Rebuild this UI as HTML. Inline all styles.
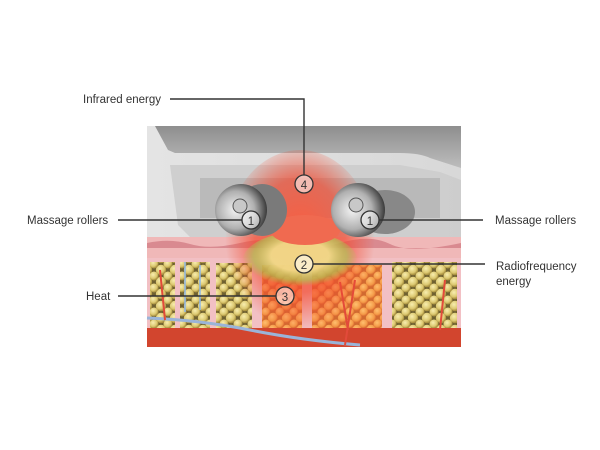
<!DOCTYPE html>
<html><head><style>
html,body{margin:0;padding:0;background:#fff;}
svg{display:block}
text{font-family:"Liberation Sans",sans-serif;font-size:11.5px;fill:#333}
</style></head><body>
<svg width="600" height="450" viewBox="0 0 600 450" xmlns="http://www.w3.org/2000/svg">
<defs>
<linearGradient id="dev" x1="0" y1="0" x2="0" y2="1"><stop offset="0" stop-color="#8e8e8e"/><stop offset="1" stop-color="#bdbdbd"/></linearGradient>
<linearGradient id="bg" x1="0" y1="0" x2="1" y2="0"><stop offset="0" stop-color="#e4e4e4"/><stop offset="1" stop-color="#d8d8d8"/></linearGradient>
<radialGradient id="glow" cx="0.5" cy="0.45" r="0.5"><stop offset="0" stop-color="#ff5a3a" stop-opacity="0.95"/><stop offset="0.6" stop-color="#f24a30" stop-opacity="0.7"/><stop offset="1" stop-color="#f24a30" stop-opacity="0"/></radialGradient>
<radialGradient id="green" cx="0.5" cy="0.4" r="0.5"><stop offset="0.5" stop-color="#f0e890" stop-opacity="0.85"/><stop offset="0.8" stop-color="#9ee05a" stop-opacity="0.55"/><stop offset="1" stop-color="#8ee04a" stop-opacity="0"/></radialGradient>
<radialGradient id="roll" cx="0.4" cy="0.5" r="0.6"><stop offset="0" stop-color="#f4f4f4"/><stop offset="0.6" stop-color="#b0b0b0"/><stop offset="1" stop-color="#3a3a3a"/></radialGradient>
<radialGradient id="cell" cx="0.4" cy="0.35" r="0.6"><stop offset="0" stop-color="#f8eeb0"/><stop offset="0.7" stop-color="#dcc870"/><stop offset="1" stop-color="#a89040"/></radialGradient>
<radialGradient id="cellw" cx="0.4" cy="0.35" r="0.6"><stop offset="0" stop-color="#ffc070"/><stop offset="0.7" stop-color="#f49a48"/><stop offset="1" stop-color="#d86a30"/></radialGradient>
<pattern id="fat" width="14" height="12" patternUnits="userSpaceOnUse"><rect width="14" height="12" fill="#6e6030"/><circle cx="7" cy="6" r="5.2" fill="url(#cell)"/><circle cx="0" cy="0" r="4.5" fill="url(#cell)"/><circle cx="14" cy="0" r="4.5" fill="url(#cell)"/><circle cx="0" cy="12" r="4.5" fill="url(#cell)"/><circle cx="14" cy="12" r="4.5" fill="url(#cell)"/></pattern>
<pattern id="fatw" width="14" height="12" patternUnits="userSpaceOnUse"><rect width="14" height="12" fill="#d06a30"/><circle cx="7" cy="6" r="5.2" fill="url(#cellw)"/><circle cx="0" cy="0" r="4.5" fill="url(#cellw)"/><circle cx="14" cy="0" r="4.5" fill="url(#cellw)"/><circle cx="0" cy="12" r="4.5" fill="url(#cellw)"/><circle cx="14" cy="12" r="4.5" fill="url(#cellw)"/></pattern>
</defs>
<rect x="147" y="126" width="314" height="221" fill="url(#bg)"/>
<path d="M155 126 H461 V168 L430 158 Q420 153 400 153 H175 L168 150 Z" fill="url(#dev)"/>
<path d="M170 165 H400 L440 172 L461 180 V237 H190 L178 225 Z" fill="#cbcbcb" opacity="0.85"/>
<rect x="200" y="178" width="240" height="40" fill="#a0a0a0" opacity="0.45"/>
<rect x="147" y="237" width="314" height="22" fill="#f0b8b8"/>
<path d="M147 243 Q170 238 190 244 T240 243 T290 244 T340 243 T390 244 T461 243 V248 H147Z" fill="#d98a90"/>
<rect x="147" y="258" width="314" height="74" fill="#f2c0c4"/>
<rect x="150" y="262" width="25" height="66" fill="url(#fat)"/>
<rect x="180" y="262" width="30" height="66" fill="url(#fat)"/>
<rect x="216" y="263" width="36" height="65" fill="url(#fat)"/>
<rect x="262" y="265" width="40" height="65" fill="url(#fatw)"/>
<rect x="312" y="265" width="70" height="65" fill="url(#fatw)"/>
<rect x="392" y="262" width="65" height="68" fill="url(#fat)"/>
<rect x="147" y="328" width="314" height="19" fill="#d2452e"/>
<path d="M147 318 Q200 320 250 330 T360 345" stroke="#9ab4d8" stroke-width="3" fill="none"/>
<path d="M185 262 V312 M200 265 V310" stroke="#8fb8e8" stroke-width="1.5" fill="none"/>
<path d="M355 280 L345 345 M340 282 L348 330 M160 270 L165 320 M445 280 L440 330" stroke="#e24a3a" stroke-width="2" fill="none"/>
<ellipse cx="300" cy="245" rx="75" ry="95" fill="url(#glow)"/>
<ellipse cx="300" cy="262" rx="58" ry="30" fill="url(#green)"/>
<ellipse cx="305" cy="230" rx="35" ry="15" fill="#f06a50"/>
<ellipse cx="262" cy="210" rx="25" ry="26" fill="#7a7a7a"/>
<circle cx="241" cy="210" r="26" fill="url(#roll)"/>
<circle cx="240" cy="206" r="7" fill="#c8c8c8" stroke="#555"/>
<ellipse cx="385" cy="212" rx="30" ry="22" fill="#888"/>
<circle cx="358" cy="210" r="27" fill="url(#roll)"/>
<circle cx="356" cy="205" r="7" fill="#c8c8c8" stroke="#555"/>
<g stroke="#333" stroke-width="1.4" fill="none">
<path d="M170 99 H304 V175"/>
<path d="M118 220 H242"/>
<path d="M379 220 H483"/>
<path d="M313 264 H485"/>
<path d="M118 296 H276"/>
</g>
<g fill="#fff" fill-opacity="0.55" stroke="#333" stroke-width="1.3">
<circle cx="304" cy="184" r="9"/>
<circle cx="251" cy="220" r="9"/>
<circle cx="370" cy="220" r="9"/>
<circle cx="304" cy="264" r="9"/>
<circle cx="285" cy="296" r="9"/>
</g>
<g text-anchor="middle" style="font-size:12px">
<text x="304" y="189">4</text><text x="251" y="225">1</text><text x="370" y="225">1</text><text x="304" y="269">2</text><text x="285" y="301">3</text>
</g>
<text x="83" y="103">Infrared energy</text>
<text x="27" y="224">Massage rollers</text>
<text x="495" y="224">Massage rollers</text>
<text x="496" y="270">Radiofrequency</text>
<text x="496" y="285">energy</text>
<text x="86" y="300">Heat</text>
</svg>
</body></html>
